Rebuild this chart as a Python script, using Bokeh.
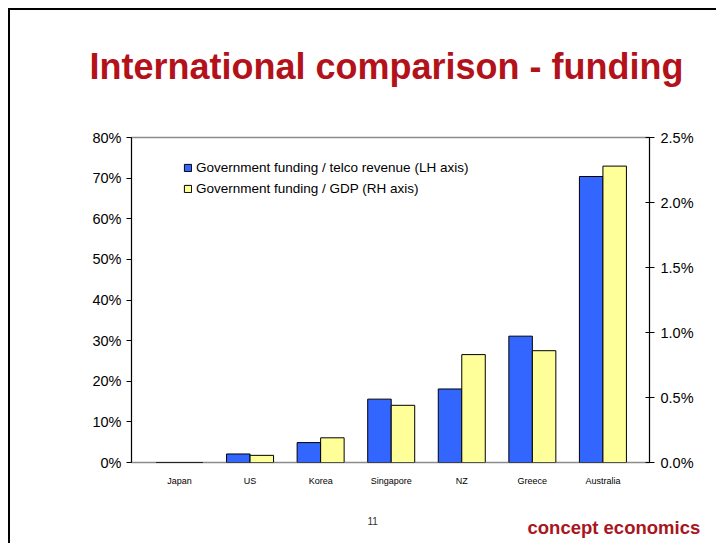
import numpy as np
from bokeh.plotting import figure
from bokeh.models import (Range1d, LinearAxis, PrintfTickFormatter, Legend, LegendItem,
                          ColumnDataSource, FixedTicker, Title)
from bokeh.embed import file_html
from bokeh.resources import INLINE

# ---- data ----
countries = ["Japan", "US", "Korea", "Singapore", "NZ", "Greece", "Australia"]
funding_telco_pct = [0.0, 2.1, 4.9, 15.6, 18.1, 31.1, 70.4]     # LH axis, %
funding_gdp_pct = [0.0, 0.055, 0.19, 0.44, 0.83, 0.86, 2.28]    # RH axis, %
lh_ticks = [0, 10, 20, 30, 40, 50, 60, 70, 80]
rh_ticks = [0.0, 0.5, 1.0, 1.5, 2.0, 2.5]

W, H = 708, 535
FONT = "Liberation Sans"
RED = "#B3121B"

xs = np.arange(len(countries))
src = ColumnDataSource(dict(
    xb=xs - 0.1665, xy=xs + 0.1665,
    telco=funding_telco_pct, gdp=funding_gdp_pct,
))

p = figure(width=W, height=H, output_backend="svg", toolbar_location=None, title=None,
           x_range=Range1d(-0.68, 6.66), y_range=Range1d(0, 80),
           min_border_left=121, min_border_right=69, min_border_top=127, min_border_bottom=83)
p.styles = {"border-left": "2px solid black", "border-top": "2px solid black",
            "margin-left": "8px", "margin-top": "8px"}
p.extra_y_ranges = {"rh": Range1d(0, 2.5)}
p.grid.visible = False
p.outline_line_color = "#8c8c8c"
p.outline_line_width = 1.5
p.background_fill_color = "white"
p.border_fill_color = "white"

# 'above' panel: spacer next to the frame, then the main title
spacer_a = Title(text=" ", text_font=FONT, text_font_size="10px", text_font_style="normal",
                 standoff=38)
main_title = Title(text="International comparison - funding", align="left", offset=-42,
                   standoff=0, text_font=FONT, text_font_style="bold",
                   text_font_size="36px", text_color=RED)
p.add_layout(spacer_a, "above")
p.add_layout(main_title, "above")

rb = p.vbar(x="xb", top="telco", width=0.333, source=src, fill_color="#3366FF",
            line_color="black", line_width=1)
ry = p.vbar(x="xy", top="gdp", width=0.333, source=src, fill_color="#FFFF99",
            line_color="black", line_width=1, y_range_name="rh")

# left axis
ya = p.yaxis[0]
ya.ticker = FixedTicker(ticks=lh_ticks)
ya.formatter = PrintfTickFormatter(format="%d%%")
ya.major_label_text_font = FONT
ya.major_label_text_font_size = "14.5px"
ya.major_label_text_color = "black"
ya.major_tick_out = 5
ya.major_tick_in = 0
ya.minor_tick_out = 0
ya.minor_tick_in = 0
ya.major_label_standoff = 5
ya.axis_line_color = "black"

# right axis
ra = LinearAxis(y_range_name="rh", ticker=FixedTicker(ticks=rh_ticks),
                formatter=PrintfTickFormatter(format="%.1f%%"))
ra.major_label_text_font = FONT
ra.major_label_text_font_size = "14.5px"
ra.major_label_text_color = "black"
ra.major_tick_out = 5
ra.major_tick_in = 4
ra.minor_tick_out = 0
ra.minor_tick_in = 0
ra.major_label_standoff = 6
ra.axis_line_color = "black"
p.add_layout(ra, "right")

# x axis
xa = p.xaxis[0]
xa.ticker = FixedTicker(ticks=list(xs))
xa.major_label_overrides = {int(i): c for i, c in enumerate(countries)}
xa.major_label_text_font = FONT
xa.major_label_text_font_size = "9px"
xa.major_label_text_color = "black"
xa.major_tick_out = 0
xa.major_tick_in = 0
xa.minor_tick_out = 0
xa.minor_tick_in = 0
xa.axis_line_color = None
xa.major_label_standoff = 13

legend = Legend(items=[
    LegendItem(label="Government funding / telco revenue (LH axis)", renderers=[rb]),
    LegendItem(label="Government funding / GDP (RH axis)", renderers=[ry]),
], location=(52, 265))
legend.border_line_color = None
legend.background_fill_alpha = 0
legend.padding = 0
legend.margin = 0
legend.spacing = 3
legend.label_height = 18
legend.glyph_height = 9
legend.glyph_width = 9
legend.label_standoff = 4
legend.label_text_font = FONT
legend.label_text_font_size = "13.5px"
legend.label_text_color = "black"
p.add_layout(legend, "center")

# 'below' panel: x axis, spacer, page number, company name
spacer_b = Title(text=" ", text_font=FONT, text_font_size="10px", text_font_style="normal",
                 standoff=13)
t11 = Title(text="11", align="left", offset=236, standoff=0, text_font=FONT,
            text_font_size="10px", text_font_style="normal", text_color="#333333")
tce = Title(text="concept economics", align="left", offset=396, standoff=-20, text_font=FONT,
            text_font_size="18.5px", text_font_style="bold", text_color="#A8161E")
p.add_layout(spacer_b, "below")
p.add_layout(t11, "below")
p.add_layout(tce, "below")

open("out.html", "w").write(file_html(p, INLINE))
